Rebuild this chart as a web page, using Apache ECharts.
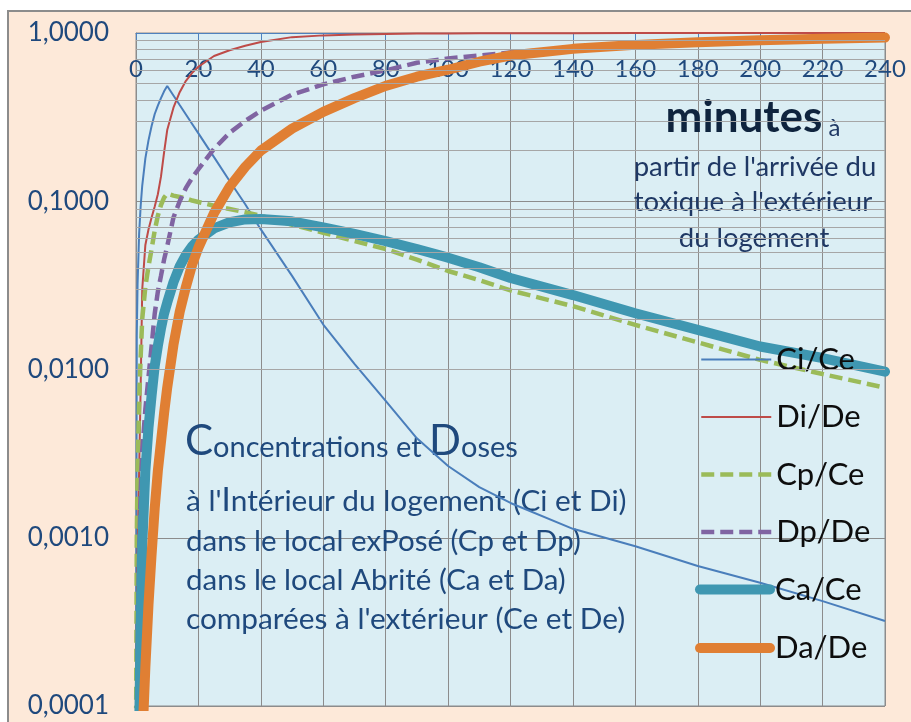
<!DOCTYPE html>
<html><head><meta charset="utf-8">
<script src="https://cdn.jsdelivr.net/npm/echarts@6/dist/echarts.min.js"></script>
<style>html,body{margin:0;padding:0;background:#fff}#c{width:911px;height:722px}</style>
</head><body><div id="c"></div>
<script>
// minutes
const times = [0, 0.25, 0.5, 1, 1.5, 2, 3, 4, 5, 6, 7, 8, 9, 10, 12, 14, 16, 18, 20, 25, 30, 35, 40, 50, 60, 70, 80, 90, 100, 110, 120, 140, 160, 180, 200, 220, 240];
const ciCe = [0.00008, 0.016, 0.032, 0.064, 0.094, 0.124, 0.18, 0.23, 0.28, 0.33, 0.37, 0.41, 0.45, 0.484, 0.425, 0.373, 0.328, 0.288, 0.253, 0.183, 0.132, 0.096, 0.068, 0.036, 0.0185, 0.0108, 0.0065, 0.0039, 0.00267, 0.002, 0.00161, 0.00113, 0.00089, 0.00068, 0.00054, 0.00042, 0.00032];
const diDe = [0.00005, 0.0003, 0.0008, 0.0025, 0.008, 0.03, 0.055, 0.068, 0.08, 0.093, 0.11, 0.14, 0.195, 0.265, 0.36, 0.445, 0.52, 0.58, 0.63, 0.73, 0.79, 0.84, 0.885, 0.945, 0.968, 0.98, 0.988, 0.992, 0.994, 0.996, 0.997, 0.998, 0.999, 0.999, 0.999, 0.999, 0.999];
const cpCe = [0.00005, 0.001, 0.0025, 0.0065, 0.012, 0.02, 0.031, 0.041, 0.052, 0.067, 0.082, 0.095, 0.105, 0.111, 0.108, 0.106, 0.104, 0.101, 0.099, 0.094, 0.09, 0.086, 0.082, 0.0725, 0.065, 0.058, 0.052, 0.045, 0.0385, 0.034, 0.0295, 0.0238, 0.0184, 0.0145, 0.0114, 0.0094, 0.0078];
const dpDe = [0.00003, 0.00005, 0.0002, 0.0008, 0.0019, 0.0033, 0.0058, 0.009, 0.0138, 0.0215, 0.029, 0.036, 0.045, 0.054, 0.08, 0.10, 0.12, 0.138, 0.155, 0.205, 0.255, 0.30, 0.345, 0.43, 0.495, 0.55, 0.60, 0.665, 0.705, 0.735, 0.765, 0.81, 0.86, 0.895, 0.92, 0.94, 0.955];
const caCe = [0.00001, 0.00001, 0.00002, 0.00007, 0.0003, 0.0009, 0.0025, 0.0045, 0.007, 0.0105, 0.0138, 0.0175, 0.0215, 0.025, 0.033, 0.041, 0.048, 0.054, 0.059, 0.069, 0.075, 0.078, 0.0785, 0.076, 0.07, 0.064, 0.058, 0.052, 0.0462, 0.0405, 0.035, 0.0277, 0.0216, 0.0172, 0.0137, 0.0117, 0.0097];
const daDe = [0.000003, 0.000005, 0.00001, 0.00002, 0.00004, 0.00006, 0.00017, 0.0004, 0.0008, 0.0015, 0.0025, 0.0037, 0.0055, 0.0078, 0.014, 0.022, 0.031, 0.042, 0.053, 0.085, 0.122, 0.16, 0.20, 0.27, 0.34, 0.41, 0.485, 0.55, 0.605, 0.675, 0.735, 0.805, 0.85, 0.88, 0.905, 0.925, 0.94];
const seriesNames = ['Ci/Ce', 'Di/De', 'Cp/Ce', 'Dp/De', 'Ca/Ce', 'Da/De'];
const yTickLabels = ['0,0001', '0,0010', '0,0100', '0,1000', '1,0000'];
const xMin = 0, xMax = 240, xStep = 20;

const FONT = 'Lato';
const minorGrid = [];
for (let e = -4; e < 0; e++) for (let d = 2; d <= 9; d++) minorGrid.push(+(d * Math.pow(10, e)).toPrecision(3));

const styles = [
  {color: '#4A7EBB', width: 2, type: 'solid'},
  {color: '#BE4B48', width: 2, type: 'solid'},
  {color: '#9BBB59', width: 4.5, type: [13, 6]},
  {color: '#8064A2', width: 4.5, type: [13, 6]},
  {color: '#3F97B1', width: 10, type: 'solid', cap: 'round'},
  {color: '#E07F33', width: 10, type: 'solid', cap: 'round'}
];
const allData = [ciCe, diDe, cpCe, dpDe, caCe, daDe];

const series = allData.map((arr, k) => ({
  name: seriesNames[k], type: 'line', symbol: 'none', showSymbol: false, clip: true, z: 3,
  color: styles[k].color,
  lineStyle: {color: styles[k].color, width: styles[k].width, type: styles[k].type, cap: styles[k].cap || 'butt'},
  data: times.map((t, i) => [t, arr[i]]),
  animation: false
}));
series.unshift({
  name: 'grid', type: 'line', data: [], z: 1, silent: true, animation: false,
  markLine: {silent: true, symbol: ['none', 'none'], label: {show: false}, animation: false,
    lineStyle: {color: '#A6A6A6', width: 1, type: 'solid'},
    emphasis: {disabled: true},
    data: minorGrid.map(v => ({yAxis: v}))}
});

const legendCommon = {orient: 'vertical', itemWidth: 70, itemHeight: 12, padding: 0, z: 5,
  lineStyle: {width: 'inherit'}, selectedMode: false,
  textStyle: {fontFamily: FONT, fontSize: 31, color: '#0D0D0D', lineHeight: 30}};

const txtColor = '#1F497D';
const chart = echarts.init(document.getElementById('c'));
chart.setOption({
  backgroundColor: '#ffffff',
  animation: false,
  grid: {left: 136, top: 33, right: 26, bottom: 16, show: true, backgroundColor: '#DBEEF4', borderColor: '#8C8C8C', borderWidth: 1},
  xAxis: {type: 'value', position: 'top', min: xMin, max: xMax, interval: xStep,
    axisLine: {show: true, lineStyle: {color: '#4F81BD', width: 1}},
    axisTick: {show: true, inside: true, length: 7, lineStyle: {color: '#4F81BD'}},
    axisLabel: {inside: true, margin: 24, fontFamily: FONT, fontSize: 24, color: txtColor, showMaxLabel: true, showMinLabel: true},
    splitLine: {show: true, lineStyle: {color: '#8C8C8C', width: 1}}},
  yAxis: {type: 'log', logBase: 10, min: 0.0001, max: 1,
    axisLine: {show: true, lineStyle: {color: '#8C8C8C'}},
    axisTick: {show: false},
    axisLabel: {margin: 27, fontFamily: FONT, fontSize: 26, color: txtColor,
      formatter: v => yTickLabels[Math.round(Math.log10(v)) + 4]},
    splitLine: {show: true, lineStyle: {color: '#8C8C8C', width: 1}}},
  legend: [
    Object.assign({}, legendCommon, {data: seriesNames.slice(0, 4).map(n => ({name: n, itemStyle: {opacity: 0}})),
      left: 699, top: 344, itemGap: 26.5}),
    Object.assign({}, legendCommon, {data: seriesNames.slice(4).map(n => ({name: n, itemStyle: {opacity: 0}})),
      left: 695, top: 574, itemGap: 27.5})
  ],
  graphic: [
    {type: 'rect', z: -10, silent: true, shape: {x: 8, y: 11, width: 940, height: 760},
      style: {fill: '#FDE9D9', stroke: '#8C8C8C', lineWidth: 2}},
    {type: 'text', z: 1, x: 753, y: 118, silent: true,
      style: {text: '{m|minutes}{a| à}', align: 'center', verticalAlign: 'middle',
        rich: {m: {fontFamily: FONT, fontSize: 44, fontWeight: 'bold', fill: '#0F243E', verticalAlign: 'bottom'},
               a: {fontFamily: FONT, fontSize: 24, fill: '#1F3864', verticalAlign: 'bottom'}}}},
    {type: 'text', z: 1, x: 755, y: 167, silent: true,
      style: {text: "partir de l'arrivée du", align: 'center', verticalAlign: 'middle', fontFamily: FONT, fontSize: 27.5, fill: '#1F3864'}},
    {type: 'text', z: 1, x: 753, y: 202, silent: true,
      style: {text: "toxique à l'extérieur", align: 'center', verticalAlign: 'middle', fontFamily: FONT, fontSize: 27.5, fill: '#1F3864'}},
    {type: 'text', z: 1, x: 754, y: 238, silent: true,
      style: {text: 'du logement', align: 'center', verticalAlign: 'middle', fontFamily: FONT, fontSize: 27.5, fill: '#1F3864'}},
    {type: 'text', z: 1, x: 185, y: 441, silent: true,
      style: {text: '{b|C}{n|oncentrations et }{b|D}{n|oses}', align: 'left', verticalAlign: 'middle',
        rich: {b: {fontFamily: FONT, fontSize: 42, fill: txtColor, verticalAlign: 'bottom'},
               n: {fontFamily: FONT, fontSize: 29, fill: txtColor, verticalAlign: 'bottom'}}}},
    {type: 'text', z: 1, x: 186, y: 500, silent: true,
      style: {text: "{n|à l'}{i|I}{n|ntérieur du logement (Ci et Di)}", align: 'left', verticalAlign: 'middle',
        rich: {n: {fontFamily: FONT, fontSize: 29.8, fill: txtColor, verticalAlign: 'bottom'},
               i: {fontFamily: FONT, fontSize: 33, fill: txtColor, verticalAlign: 'bottom'}}}},
    {type: 'text', z: 1, x: 186, y: 541, silent: true,
      style: {text: 'dans le local exPosé (Cp et Dp)', align: 'left', verticalAlign: 'middle', fontFamily: FONT, fontSize: 29.5, fill: txtColor}},
    {type: 'text', z: 1, x: 186, y: 580, silent: true,
      style: {text: 'dans le local Abrité (Ca et Da)', align: 'left', verticalAlign: 'middle', fontFamily: FONT, fontSize: 29.5, fill: txtColor}},
    {type: 'text', z: 1, x: 186, y: 619, silent: true,
      style: {text: "comparées à l'extérieur (Ce et De)", align: 'left', verticalAlign: 'middle', fontFamily: FONT, fontSize: 29.8, fill: txtColor}}
  ],
  series: series
});
</script></body></html>
